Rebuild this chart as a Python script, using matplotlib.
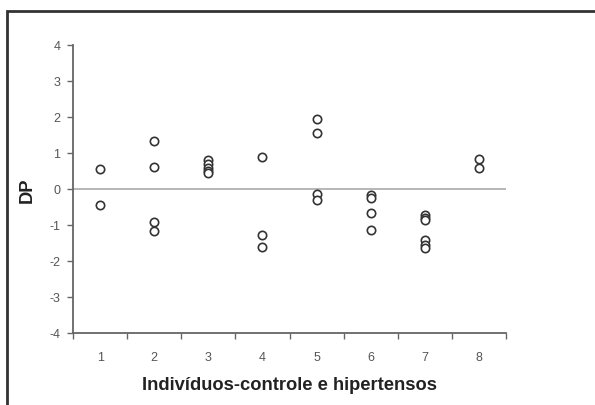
import matplotlib
matplotlib.use("Agg")
import matplotlib.pyplot as plt
from matplotlib.patches import Rectangle

categories = [1, 2, 3, 4, 5, 6, 7, 8]
values = {
    1: [0.54, -0.45],
    2: [1.33, 0.61, -0.91, -1.17],
    3: [0.80, 0.68, 0.58, 0.50, 0.44],
    4: [0.89, -1.28, -1.60],
    5: [1.94, 1.54, -0.15, -0.30],
    6: [-0.17, -0.25, -0.66, -1.14],
    7: [-0.72, -0.80, -0.86, -1.42, -1.55, -1.65],
    8: [0.82, 0.57],
}
yticks = [-4, -3, -2, -1, 0, 1, 2, 3, 4]
xlabel = "Indivíduos-controle e hipertensos"
ylabel = "DP"

plt.rcParams['font.family'] = ['Liberation Sans', 'DejaVu Sans']

fig = plt.figure(figsize=(5.95, 4.06), dpi=100)
ax = fig.add_axes([73/595, 1 - 334/406, (506 - 73)/595, (334 - 45.7)/406])

xs, ys = [], []
for c in categories:
    for v in values[c]:
        xs.append(c)
        ys.append(v)
ax.scatter(xs, ys, s=36, facecolors='white', edgecolors='#333333', linewidths=1.2, zorder=3)

ax.axhline(0, color='#aaaaaa', linewidth=1.2, zorder=1)

ax.set_xlim(0.5, 8.5)
ax.set_ylim(-4, 4)
ax.set_yticks(yticks)
ax.set_yticklabels([str(t) for t in yticks])
ax.set_xticks([c + 0.5 for c in [0] + categories])
ax.set_xticklabels([])
ax.set_xticks(categories, minor=True)
ax.set_xticklabels([str(c) for c in categories], minor=True)
ax.tick_params(axis='x', which='minor', length=0, pad=13, labelsize=9, labelcolor='#555555')
ax.tick_params(axis='x', which='major', length=4, width=1, color='#666666', direction='out')
ax.tick_params(axis='y', length=4, width=1, color='#666666', direction='out', labelsize=9,
               labelcolor='#555555', pad=5)

for s in ['top', 'right']:
    ax.spines[s].set_visible(False)
for s in ['left', 'bottom']:
    ax.spines[s].set_color('#666666')
    ax.spines[s].set_linewidth(1.3)

ax.set_xlabel(xlabel, fontsize=13.2, fontweight='bold', color='#222222', labelpad=9)
ax.set_ylabel(ylabel, fontsize=13.2, fontweight='bold', color='#222222', labelpad=10)

fig.patches.append(Rectangle((6.5/595, -0.2), 1.2, 0.2 + (1 - 11.5/406), transform=fig.transFigure,
                             fill=False, edgecolor='#333333', linewidth=2, clip_on=False))

fig.savefig("out.png", dpi=100)
